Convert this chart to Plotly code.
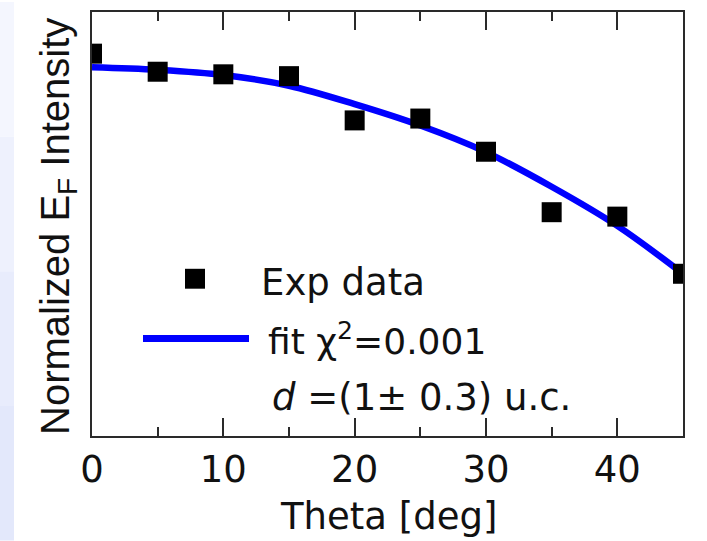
import plotly.graph_objects as go

# ---- data ----
theta_exp = [0, 5, 10, 15, 20, 25, 30, 35, 40, 45]
intensity_exp = [1.037, 0.988, 0.981, 0.976, 0.856, 0.861, 0.771, 0.607, 0.595, 0.440]

theta_fit = [0, 5, 10, 15, 20, 25, 30, 35, 40, 45]
intensity_fit = [1.000, 0.993, 0.979, 0.950, 0.900, 0.842, 0.770, 0.676, 0.570, 0.440]

x_ticks = [0, 10, 20, 30, 40]

W, H = 707, 541
L, R, T, B = 92, 24, 10, 105
PW, PH = W - L - R, H - T - B


def px(x):
    return (x - L) / PW


def py(y):
    return (H - B - y) / PH


BLUE = "#0000ff"
AX = "#2a2a2a"
TXT = "#111111"
HFONT = "DejaVu Sans, sans-serif"
VFONT = "Liberation Sans, Arial, sans-serif"

fig = go.Figure()
fig.add_trace(go.Scatter(
    x=theta_fit, y=intensity_fit, mode="lines",
    line=dict(color=BLUE, width=6.5, shape="spline", smoothing=1.0),
    showlegend=False, hoverinfo="skip"))
fig.add_trace(go.Scatter(
    x=theta_exp, y=intensity_exp, mode="markers",
    marker=dict(symbol="square", size=20, color="black", line=dict(width=0)),
    showlegend=False, cliponaxis=True))

fig.update_layout(
    width=W, height=H,
    margin=dict(l=L, r=R, t=T, b=B),
    paper_bgcolor="white", plot_bgcolor="white",
    font=dict(family=HFONT, color=TXT),
    showlegend=False,
    xaxis=dict(
        range=[0, 45], tickvals=x_ticks, ticks="inside", ticklen=18, tickwidth=2,
        tickcolor=AX, showline=True, linecolor=AX, linewidth=2, mirror="ticks",
        showgrid=False, zeroline=False,
        tickfont=dict(size=37, family=HFONT, color=TXT),
        ticklabelstandoff=0,
        minor=dict(ticks="inside", ticklen=9, tickwidth=2, tickcolor=AX,
                   tick0=5, dtick=10, showgrid=False),
    ),
    yaxis=dict(
        range=[0, 1.15], showticklabels=False, ticks="",
        showline=True, linecolor=AX, linewidth=2, mirror=True,
        showgrid=False, zeroline=False,
    ),
)

# light-blue slide strip on the left edge
for i, c in enumerate(["#f4f6fe", "#eef1fd", "#e8ecfc", "#e3e8fb"]):
    fig.add_shape(type="rect", xref="paper", yref="paper",
                  x0=px(0), x1=px(14), y0=py(H * (i + 1) / 4), y1=py(H * i / 4),
                  fillcolor=c, line=dict(width=0), layer="below")

# axis titles
fig.add_annotation(text="Theta [deg]", xref="paper", yref="paper",
                   x=px(388), y=py(517), xanchor="center", yanchor="middle",
                   showarrow=False, font=dict(size=37, family=HFONT, color=TXT))
fig.add_annotation(text="Normalized E<sub>F</sub> Intensity", xref="paper", yref="paper",
                   x=px(58), y=py(226), xanchor="center", yanchor="middle", textangle=-90,
                   showarrow=False, font=dict(size=40, family=VFONT, color=TXT))

# legend (drawn inside the plot)
fig.add_shape(type="rect", xref="paper", yref="paper",
              x0=px(185), x1=px(205), y0=py(288), y1=py(268),
              fillcolor="black", line=dict(width=0))
fig.add_shape(type="line", xref="paper", yref="paper",
              x0=px(143), x1=px(249), y0=py(338), y1=py(338),
              line=dict(color=BLUE, width=7))
fig.add_annotation(text="Exp data", xref="paper", yref="paper",
                   x=px(259), y=py(282), xanchor="left", yanchor="middle",
                   showarrow=False, font=dict(size=37, family=HFONT, color=TXT))
fig.add_annotation(text="fit χ<sup>2</sup>=0.001", xref="paper", yref="paper",
                   x=px(266), y=py(339), xanchor="left", yanchor="middle",
                   showarrow=False, font=dict(size=36, family=HFONT, color=TXT))
fig.add_annotation(text="<i>d</i> =(1± 0.3) u.c.", xref="paper", yref="paper",
                   x=px(270), y=py(397), xanchor="left", yanchor="middle",
                   showarrow=False, font=dict(size=37, family=HFONT, color=TXT))

fig.write_html("out.html")
